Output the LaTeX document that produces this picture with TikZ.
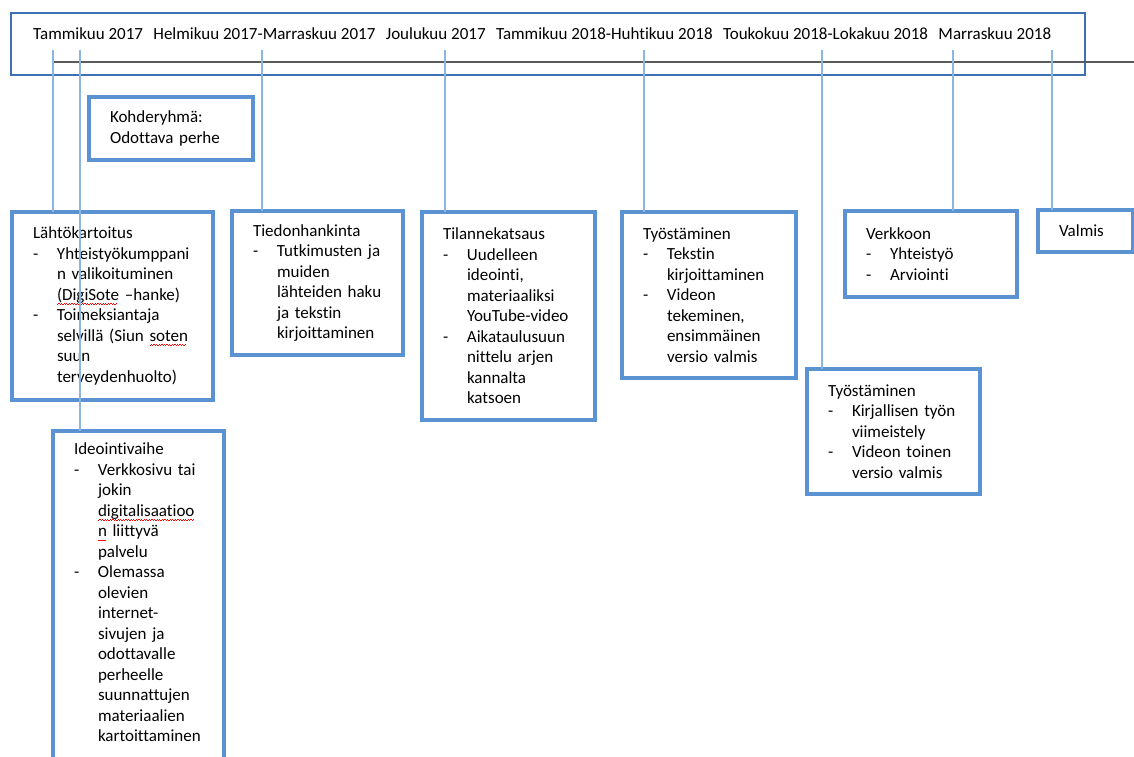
\documentclass[tikz,border=0pt]{standalone}
\usepackage{fontspec}
\setmainfont{Carlito}[RawFeature={-liga;-clig;-calt;-dlig}]
% red wavy line of the spell checker
\newsavebox{\sanalaatikko}
\newcommand{\vaarin}[1]{\sbox{\sanalaatikko}{#1}%
    \rlap{\color{red}\hbox to\wd\sanalaatikko{\leaders\hbox{\rule[-4.4pt]{1.3pt}{0.8pt}\rule[-3.6pt]{1.3pt}{0.8pt}}\hfill}}#1}
\newcommand{\viiva}{\makebox[24pt][l]{-}}
\newcommand{\sisenna}{\hspace*{24pt}}
\newcommand{\vali}{\hspace{10.4pt}}
\definecolor{laatikkosin}{RGB}{91,146,210}
\definecolor{aikasin}{RGB}{62,112,180}
\definecolor{yhteyssin}{RGB}{140,182,226}
\definecolor{janaharmaa}{RGB}{90,90,90}

\begin{document}
\begin{tikzpicture}[x=1pt, y=-1pt,
    font=\fontsize{17}{20.5}\selectfont,
    vaihe/.style={draw=laatikkosin, line width=3.5pt, anchor=north west, align=left,
        inner xsep=21pt, inner ysep=0pt, outer sep=0pt},
    aika/.style={draw=aikasin, line width=2.5pt, anchor=north west, outer sep=0pt},
    yhteys/.style={draw=yhteyssin, line width=1.3pt}]
    \useasboundingbox (0,0) rectangle (1134,756);
    \clip (0,0) rectangle (1134,756);

    % timeline
    \node[aika, minimum width=1074pt, minimum height=62pt] (aikajana) at (11,13) {};
    \node[anchor=west, inner sep=0pt] (paivat) at (33,34) {Tammikuu 2017\vali Helmikuu 2017-Marraskuu 2017\vali Joulukuu 2017\vali Tammikuu 2018-Huhtikuu 2018\vali Toukokuu 2018-Lokakuu 2018\vali Marraskuu 2018};
    \coordinate (alku) at (52,62);
    \coordinate (loppu) at (1134,62);
    \draw[janaharmaa, line width=1.5pt] (alku) -- (loppu);

    \node[vaihe, text width=122pt, minimum height=63pt] (kohde) at (89,97) {Kohderyhmä:\\Odottava perhe};

    \node[vaihe, text width=159pt, minimum height=188pt] (lahto) at (12,212) {Lähtökartoitus\\
        \viiva Yhteistyökumppani\\
        \sisenna n valikoituminen\\
        \sisenna \vaarin{(DigiSote} --hanke)\\
        \viiva Toimeksiantaja\\
        \sisenna selvillä (Siun \vaarin{soten}\\
        \sisenna suun\\
        \sisenna terveydenhuolto)};
    \node[vaihe, text width=129pt, minimum height=144pt] (tieto) at (232,211) {Tiedonhankinta\\
        \viiva Tutkimusten ja\\
        \sisenna muiden\\
        \sisenna lähteiden haku\\
        \sisenna ja tekstin\\
        \sisenna kirjoittaminen};
    \node[vaihe, text width=131pt, minimum height=208pt] (tilanne) at (422,212) {Tilannekatsaus\\
        \viiva Uudelleen\\
        \sisenna ideointi,\\
        \sisenna materiaaliksi\\
        \sisenna YouTube-video\\
        \viiva Aikataulusuun\\
        \sisenna nittelu arjen\\
        \sisenna kannalta\\
        \sisenna katsoen};
    \node[vaihe, text width=132pt, minimum height=166pt] (tyo1) at (622,212) {Työstäminen\\
        \viiva Tekstin\\
        \sisenna kirjoittaminen\\
        \viiva Videon\\
        \sisenna tekeminen,\\
        \sisenna ensimmäinen\\
        \sisenna versio valmis};
    \node[vaihe, text width=131pt, minimum height=125pt] (tyo2) at (807,369) {Työstäminen\\
        \viiva Kirjallisen työn\\
        \sisenna viimeistely\\
        \viiva Videon toinen\\
        \sisenna versio valmis};
    \node[vaihe, text width=130pt, minimum height=86pt] (verkko) at (845,211) {Verkkoon\\
        \viiva Yhteistyö\\
        \viiva Arviointi};
    \node[vaihe, text width=53pt, minimum height=42pt] (valmis) at (1038,210) {Valmis};
    \node[vaihe, text width=129pt, inner ysep=12pt] (ideointi) at (53,431) {Ideointivaihe\\
        \viiva Verkkosivu tai\\
        \sisenna jokin\\
        \sisenna \vaarin{digitalisaatioo}\\
        \sisenna \vaarin{n} liittyvä\\
        \sisenna palvelu\\
        \viiva Olemassa\\
        \sisenna olevien\\
        \sisenna internet-\\
        \sisenna sivujen ja\\
        \sisenna odottavalle\\
        \sisenna perheelle\\
        \sisenna suunnattujen\\
        \sisenna materiaalien\\
        \sisenna kartoittaminen\\
        \mbox{}};

    % month ticks down to the boxes
    \coordinate (k1) at (53,50);
    \coordinate (k2) at (80,50);
    \coordinate (k3) at (262,50);
    \coordinate (k4) at (445,50);
    \coordinate (k5) at (644,50);
    \coordinate (k6) at (822,50);
    \coordinate (k7) at (953,50);
    \coordinate (k8) at (1052,50);
    \draw[yhteys] (k1) -- (lahto.north -| k1);
    \draw[yhteys] (k2) -- (ideointi.north -| k2);
    \draw[yhteys] (k3) -- (tieto.north -| k3);
    \draw[yhteys] (k4) -- (tilanne.north -| k4);
    \draw[yhteys] (k5) -- (tyo1.north -| k5);
    \draw[yhteys] (k6) -- (tyo2.north -| k6);
    \draw[yhteys] (k7) -- (verkko.north -| k7);
    \draw[yhteys] (k8) -- (valmis.north -| k8);
\end{tikzpicture}
\end{document}
